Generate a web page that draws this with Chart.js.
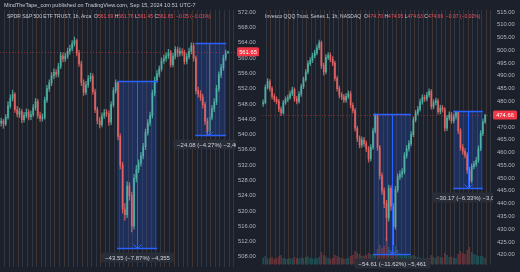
<!DOCTYPE html>
<html><head><meta charset="utf-8">
<script src="https://cdn.jsdelivr.net/npm/chart.js@4.4.1/dist/chart.umd.min.js"></script>
<style>
html,body{margin:0;padding:0;background:#1c202b;width:520px;height:272px;overflow:hidden;font-family:"Liberation Sans",Arial,sans-serif;}
#wrapL{position:absolute;left:0;top:0;width:262px;height:272px;}
#wrapR{position:absolute;left:262px;top:0;width:258px;height:272px;}
.txt{position:absolute;white-space:nowrap;color:#c8cbd3;font-size:5.5px;line-height:7px;}
.lg{font-size:5px;}
.r{color:#f7525f;}
</style></head>
<body>
<div id="wrapL"><canvas id="cL"></canvas></div>
<div id="wrapR"><canvas id="cR"></canvas></div>
<div class="txt" style="left:4px;top:2px;">MindTheTape_com published on TradingView.com, Sep 15, 2024 10:51 UTC-7</div>
<div class="txt lg" style="left:7px;top:13px;">SPDR S&amp;P 500 ETF TRUST, 1h, Arca&nbsp; O<span class="r">561.69</span> H<span class="r">561.76</span> L<span class="r">561.45</span> C<span class="r">561.65</span>&nbsp; <span class="r">−0.05 (−0.01%)</span></div>
<div class="txt lg" style="left:265px;top:13px;">Invesco QQQ Trust, Series 1, 1h, NASDAQ&nbsp; O<span class="r">474.70</span> H<span class="r">474.95</span> L<span class="r">474.63</span> C<span class="r">474.66</span>&nbsp; <span class="r">−0.07 (−0.02%)</span></div>
<script>
// ---------- SPY (left) ----------
const firstOpenL = 543.0;
const closesL = [543.5,542.8,544.5,547.5,549.5,550.5,546.5,545.3,546.0,543.9,545.0,545.8,544.6,545.2,547.0,548.6,545.0,544.2,544.5,549.0,552.0,553.5,555.4,556.3,555.8,557.8,560.6,559.8,560.5,561.8,562.5,563.8,564.6,561.3,558.5,553.6,551.0,553.0,554.6,555.2,551.2,546.5,543.6,542.6,544.9,545.7,545.5,543.2,547.8,551.5,553.5,539.5,532.0,520.5,519.0,526.5,524.0,516.0,528.5,530.8,532.5,534.4,536.8,540.5,543.0,545.0,550.8,554.2,555.8,557.2,559.3,559.9,560.6,561.4,558.3,560.5,562.2,561.2,561.8,561.5,559.2,560.4,561.8,563.2,560.0,551.5,550.6,549.8,547.8,543.5,540.8,544.5,546.8,548.5,552.0,555.6,557.5,560.0,561.3,561.65];
const highsL = [544.3,544.0,545.2,548.6,550.4,551.6,551.0,547.4,546.9,546.6,545.8,546.7,546.5,546.1,547.8,549.5,549.2,545.9,545.4,549.8,552.9,554.3,556.2,557.2,557.0,558.6,561.5,561.4,561.3,562.6,563.4,564.6,565.5,565.0,562.0,559.2,554.3,553.9,555.5,556.1,555.9,551.9,547.2,544.4,545.7,546.6,546.5,546.2,548.6,552.3,554.3,553.9,540.2,532.8,522.0,527.6,527.4,524.9,529.6,531.9,533.4,535.3,537.7,541.4,543.9,545.9,551.6,555.0,556.7,558.0,560.1,560.8,561.4,562.3,562.0,561.3,563.0,562.9,562.7,562.5,562.1,561.2,562.6,564.0,563.9,560.6,552.4,551.5,550.6,548.5,544.3,545.4,547.6,549.4,552.9,556.4,558.4,560.8,562.1,561.76];
const lowsL = [542.2,541.6,542.3,544.0,546.9,548.8,545.8,544.6,544.5,543.1,543.2,544.4,543.8,543.9,544.7,546.4,544.3,543.4,543.5,544.0,548.4,551.3,552.8,554.6,555.0,555.1,557.2,559.0,559.1,559.9,561.0,561.9,563.1,560.6,557.8,552.8,550.2,550.4,552.3,553.9,550.5,545.7,542.8,541.7,542.0,544.2,544.7,542.4,542.6,547.2,550.8,538.6,531.0,519.4,517.6,518.2,522.8,514.5,515.2,527.6,530.0,531.7,533.6,536.0,539.8,542.3,544.3,550.1,553.6,555.1,556.6,558.6,559.1,559.9,557.6,557.7,559.8,560.4,560.5,560.7,558.4,558.5,559.8,561.1,559.2,550.6,549.8,548.9,546.9,542.6,539.8,540.1,543.8,546.0,547.8,551.3,554.9,556.8,559.4,561.45];
const boxStartL = [50.6, 84.7];
const boxEndL = [68.1, 98.2];
const boxMidL = [59.3, 90.8];
const boxTopL = [553.9, 563.9];
const boxBottomL = [510.3, 539.8];
const boxLabelL = ["−43.55 (−7.87%) −4,355", "−24.08 (−4.27%) −2,408"];

// ---------- QQQ (right) ----------
const firstOpenR = 479.0;
const closesR = [479.5,485.5,487.8,485.0,482.0,480.8,480.0,477.0,475.5,479.5,480.8,481.5,483.0,484.5,481.0,480.0,482.8,485.8,488.5,491.5,494.8,496.0,497.8,499.0,501.0,503.0,494.0,491.5,497.2,498.0,496.5,495.0,489.0,485.0,482.5,481.8,480.5,482.0,483.0,478.5,476.5,469.5,465.5,463.0,465.0,463.5,461.5,457.5,462.0,468.5,474.5,462.0,451.0,445.0,440.0,434.5,446.0,439.0,431.0,445.5,450.5,451.5,452.5,458.8,461.5,463.5,467.0,472.8,475.5,477.0,479.8,481.5,481.0,482.5,483.8,478.0,479.5,480.2,476.0,477.5,476.8,469.5,473.5,474.8,472.5,474.0,475.8,468.5,462.0,460.5,459.0,453.2,449.0,454.5,455.5,457.0,461.5,467.5,472.0,474.66];
const highsR = [480.6,486.5,488.9,488.5,485.8,483.0,481.8,480.8,477.9,480.4,481.8,482.5,484.0,485.6,485.3,482.0,483.8,486.8,489.5,492.5,495.9,497.1,498.9,500.1,502.1,504.0,503.6,495.0,498.3,499.1,499.0,497.5,495.8,489.9,486.0,483.5,482.8,483.1,484.1,483.9,479.4,477.3,470.4,466.5,466.1,466.0,464.5,462.4,463.1,469.6,475.1,475.0,462.8,452.1,446.2,441.3,447.3,447.0,440.2,446.8,451.7,452.8,453.7,460.0,462.7,464.7,468.2,473.9,476.5,478.1,480.9,482.6,482.5,483.6,484.9,484.6,480.6,481.3,481.0,478.6,478.5,477.6,474.6,475.9,475.7,475.1,476.2,476.0,469.4,463.1,461.6,460.0,454.3,455.6,456.6,458.1,462.6,468.6,473.1,474.95];
const lowsR = [478.0,479.0,484.8,484.0,481.0,479.9,479.0,476.0,474.4,475.0,478.8,479.9,480.8,482.2,480.0,479.0,479.3,482.0,485.0,487.8,490.8,494.0,495.2,497.0,498.2,500.2,492.9,490.3,490.8,496.3,495.5,494.0,488.0,484.0,481.4,480.7,479.5,479.6,481.2,477.5,475.4,468.4,464.3,461.8,462.0,462.4,460.3,456.2,456.6,461.2,467.7,460.8,449.6,443.6,438.4,425.5,433.2,437.5,424.0,430.0,444.5,449.4,450.3,451.6,457.8,460.5,462.6,466.2,472.0,474.6,476.2,478.9,480.0,480.2,481.7,477.0,477.1,478.6,475.0,475.1,475.8,468.4,468.6,472.7,471.5,471.6,473.1,467.4,460.9,459.4,457.9,451.8,446.3,448.1,453.6,454.6,456.1,460.7,466.6,471.4];
const volumeR = [32,40,28,30,35,26,30,38,45,30,28,25,30,27,35,30,28,33,30,35,38,30,28,27,30,36,60,45,38,30,28,30,45,40,35,30,28,27,30,42,45,65,55,50,40,42,45,55,50,48,45,75,95,80,90,130,85,70,120,90,70,55,50,48,45,42,40,45,38,35,33,30,28,30,32,45,35,30,40,35,32,55,45,35,38,32,30,50,65,55,50,70,85,60,50,45,40,42,38,30];
const boxStartR = [49.0, 84.7];
const boxEndR = [65.9, 98.0];
const boxMidR = [57.5, 91.3];
const boxTopR = [475.1, 476.2];
const boxBottomR = [420.5, 446.0];
const boxLabelR = ["−54.61 (−11.62%) −5,461", "−30.17 (−6.33%) −3,017"];

const barsL = Array.from({length: 103}, (_, i) => i);
const barsR = Array.from({length: 103}, (_, i) => i);

const BG = '#1c202b';
const UP = 'rgba(80,180,165,0.85)', DN = 'rgba(230,100,100,0.85)';
const FONT = '"Liberation Sans", Arial, sans-serif';

function makeChart(id, d) {
  const opens = d.closes.map((c, i) => i === 0 ? d.firstOpen : d.closes[i - 1]);
  const isUp = d.closes.map((c, i) => c >= opens[i]);
  const colors = isUp.map(u => u ? UP : DN);
  const datasets = [
    {data: d.lows.map((l, i) => [l, d.highs[i]]), backgroundColor: colors, barThickness: 0.6, grouped: false, order: 2},
    {data: opens.map((o, i) => [o, d.closes[i]]), backgroundColor: colors, barThickness: 1.1, minBarLength: 1, grouped: false, order: 1}
  ];
  const scales = {
    x: {type: 'category', offset: true,
        grid: {drawTicks: false, lineWidth: 1,
               color: c => (c.index % 4 === 0 ? 'rgba(140,100,60,0.32)' : (c.index % 4 === 2 ? 'rgba(100,108,125,0.28)' : 'rgba(0,0,0,0)'))},
        border: {display: false}, ticks: {display: false}},
    y: {position: 'right', min: d.ymin, max: d.ymax,
        grid: {display: false, drawTicks: false}, border: {display: false},
        afterFit: s => { s.width = d.axisW; },
        ticks: {stepSize: d.step, includeBounds: false, autoSkip: false, padding: d.tickPad,
                color: '#b2b5be', font: {family: FONT, size: 5.8},
                callback: v => Number(v).toFixed(2)}}
  };
  if (d.volume) {
    datasets.push({data: d.volume, yAxisID: 'yv', barThickness: 0.9, grouped: false, order: 3,
      backgroundColor: isUp.map(u => u ? 'rgba(38,166,154,0.35)' : 'rgba(239,83,80,0.35)')});
    scales.yv = {display: false, min: 0, max: 1250};
  }
  const overlay = {
    id: 'overlay',
    beforeDraw(chart) {
      const ctx = chart.ctx; ctx.save(); ctx.fillStyle = BG; ctx.fillRect(0, 0, chart.width, chart.height); ctx.restore();
    },
    beforeDatasetsDraw(chart) {
      const {ctx, chartArea: a, scales: {x, y}} = chart;
      ctx.save();
      d.boxStart.forEach((s, k) => {
        const x0 = x.getPixelForValue(s), x1 = x.getPixelForValue(d.boxEnd[k]);
        const y0 = y.getPixelForValue(d.boxTop[k]), y1 = y.getPixelForValue(d.boxBottom[k]);
        ctx.fillStyle = 'rgba(41,98,255,0.22)';
        ctx.fillRect(x0, y0, x1 - x0, y1 - y0);
      });
      const py = Math.round(y.getPixelForValue(d.closes[d.closes.length - 1])) + 0.5;
      ctx.strokeStyle = 'rgba(242,54,69,0.5)'; ctx.lineWidth = 1; ctx.setLineDash([1, 2]);
      ctx.beginPath(); ctx.moveTo(a.left, py); ctx.lineTo(a.right, py); ctx.stroke();
      ctx.restore();
    },
    afterDatasetsDraw(chart) {
      const {ctx, chartArea: a, scales: {x, y}} = chart;
      ctx.save();
      ctx.beginPath(); ctx.rect(0, 0, a.right, chart.height); ctx.clip();
      d.boxStart.forEach((s, k) => {
        const x0 = x.getPixelForValue(s), x1 = x.getPixelForValue(d.boxEnd[k]);
        const xm = Math.round(x.getPixelForValue(d.boxMid[k])) + 0.5;
        const y0 = Math.round(y.getPixelForValue(d.boxTop[k])) + 0.5, y1 = Math.round(y.getPixelForValue(d.boxBottom[k])) + 0.5;
        ctx.strokeStyle = '#2962ff'; ctx.lineWidth = 1.5;
        ctx.beginPath(); ctx.moveTo(x0, y0); ctx.lineTo(x1, y0); ctx.moveTo(x0, y1); ctx.lineTo(x1, y1); ctx.stroke();
        ctx.lineWidth = 1;
        ctx.beginPath(); ctx.moveTo(xm, y0); ctx.lineTo(xm, y1);
        ctx.moveTo(xm - 4, y1 - 4); ctx.lineTo(xm, y1); ctx.lineTo(xm + 4, y1 - 4); ctx.stroke();
        ctx.font = '6px ' + FONT;
        const tw = ctx.measureText(d.boxLabel[k]).width;
        const lw = tw + 8, lh = 10, ly = y1 + 4;
        ctx.fillStyle = 'rgba(42,46,57,0.95)';
        ctx.beginPath(); ctx.roundRect(xm - lw / 2, ly, lw, lh, 2); ctx.fill();
        ctx.fillStyle = '#d1d4dc'; ctx.textAlign = 'center'; ctx.textBaseline = 'middle';
        ctx.fillText(d.boxLabel[k], xm, ly + lh / 2 + 0.5);
      });
      ctx.restore();
    },
    afterDraw(chart) {
      const {ctx, chartArea: a, scales: {y}} = chart;
      const last = d.closes[d.closes.length - 1];
      const py = y.getPixelForValue(last);
      ctx.save();
      const tx = a.right + d.tagOff, tw = chart.width - tx - 3;
      ctx.fillStyle = '#f23645';
      ctx.beginPath(); ctx.roundRect(tx, py - 4.5, tw, 9, 1.5); ctx.fill();
      ctx.fillStyle = '#ffffff'; ctx.font = '5.8px ' + FONT; ctx.textAlign = 'center'; ctx.textBaseline = 'middle';
      ctx.fillText(last.toFixed(2), tx + tw / 2, py + 0.5);
      ctx.restore();
    }
  };
  return new Chart(document.getElementById(id), {
    type: 'bar',
    data: {labels: d.labels, datasets},
    options: {
      responsive: true, maintainAspectRatio: false, animation: false,
      layout: {padding: {top: 10, left: 0, right: 0, bottom: 0}, autoPadding: false},
      plugins: {legend: {display: false}, tooltip: {enabled: false}},
      scales
    },
    plugins: [overlay]
  });
}

makeChart('cL', {labels: barsL, firstOpen: firstOpenL, closes: closesL, highs: highsL, lows: lowsL,
  boxStart: boxStartL, boxEnd: boxEndL, boxMid: boxMidL, boxTop: boxTopL, boxBottom: boxBottomL, boxLabel: boxLabelL,
  ymin: 505.44, ymax: 572.59, step: 4, axisW: 26, tickPad: 2, tagOff: 1});
makeChart('cR', {labels: barsR, firstOpen: firstOpenR, closes: closesR, highs: highsR, lows: lowsR, volume: volumeR,
  boxStart: boxStartR, boxEnd: boxEndR, boxMid: boxMidR, boxTop: boxTopR, boxBottom: boxBottomR, boxLabel: boxLabelR,
  ymin: 416.2, ymax: 515.76, step: 5, axisW: 27, tickPad: 4, tagOff: 0});
</script>
</body></html>
